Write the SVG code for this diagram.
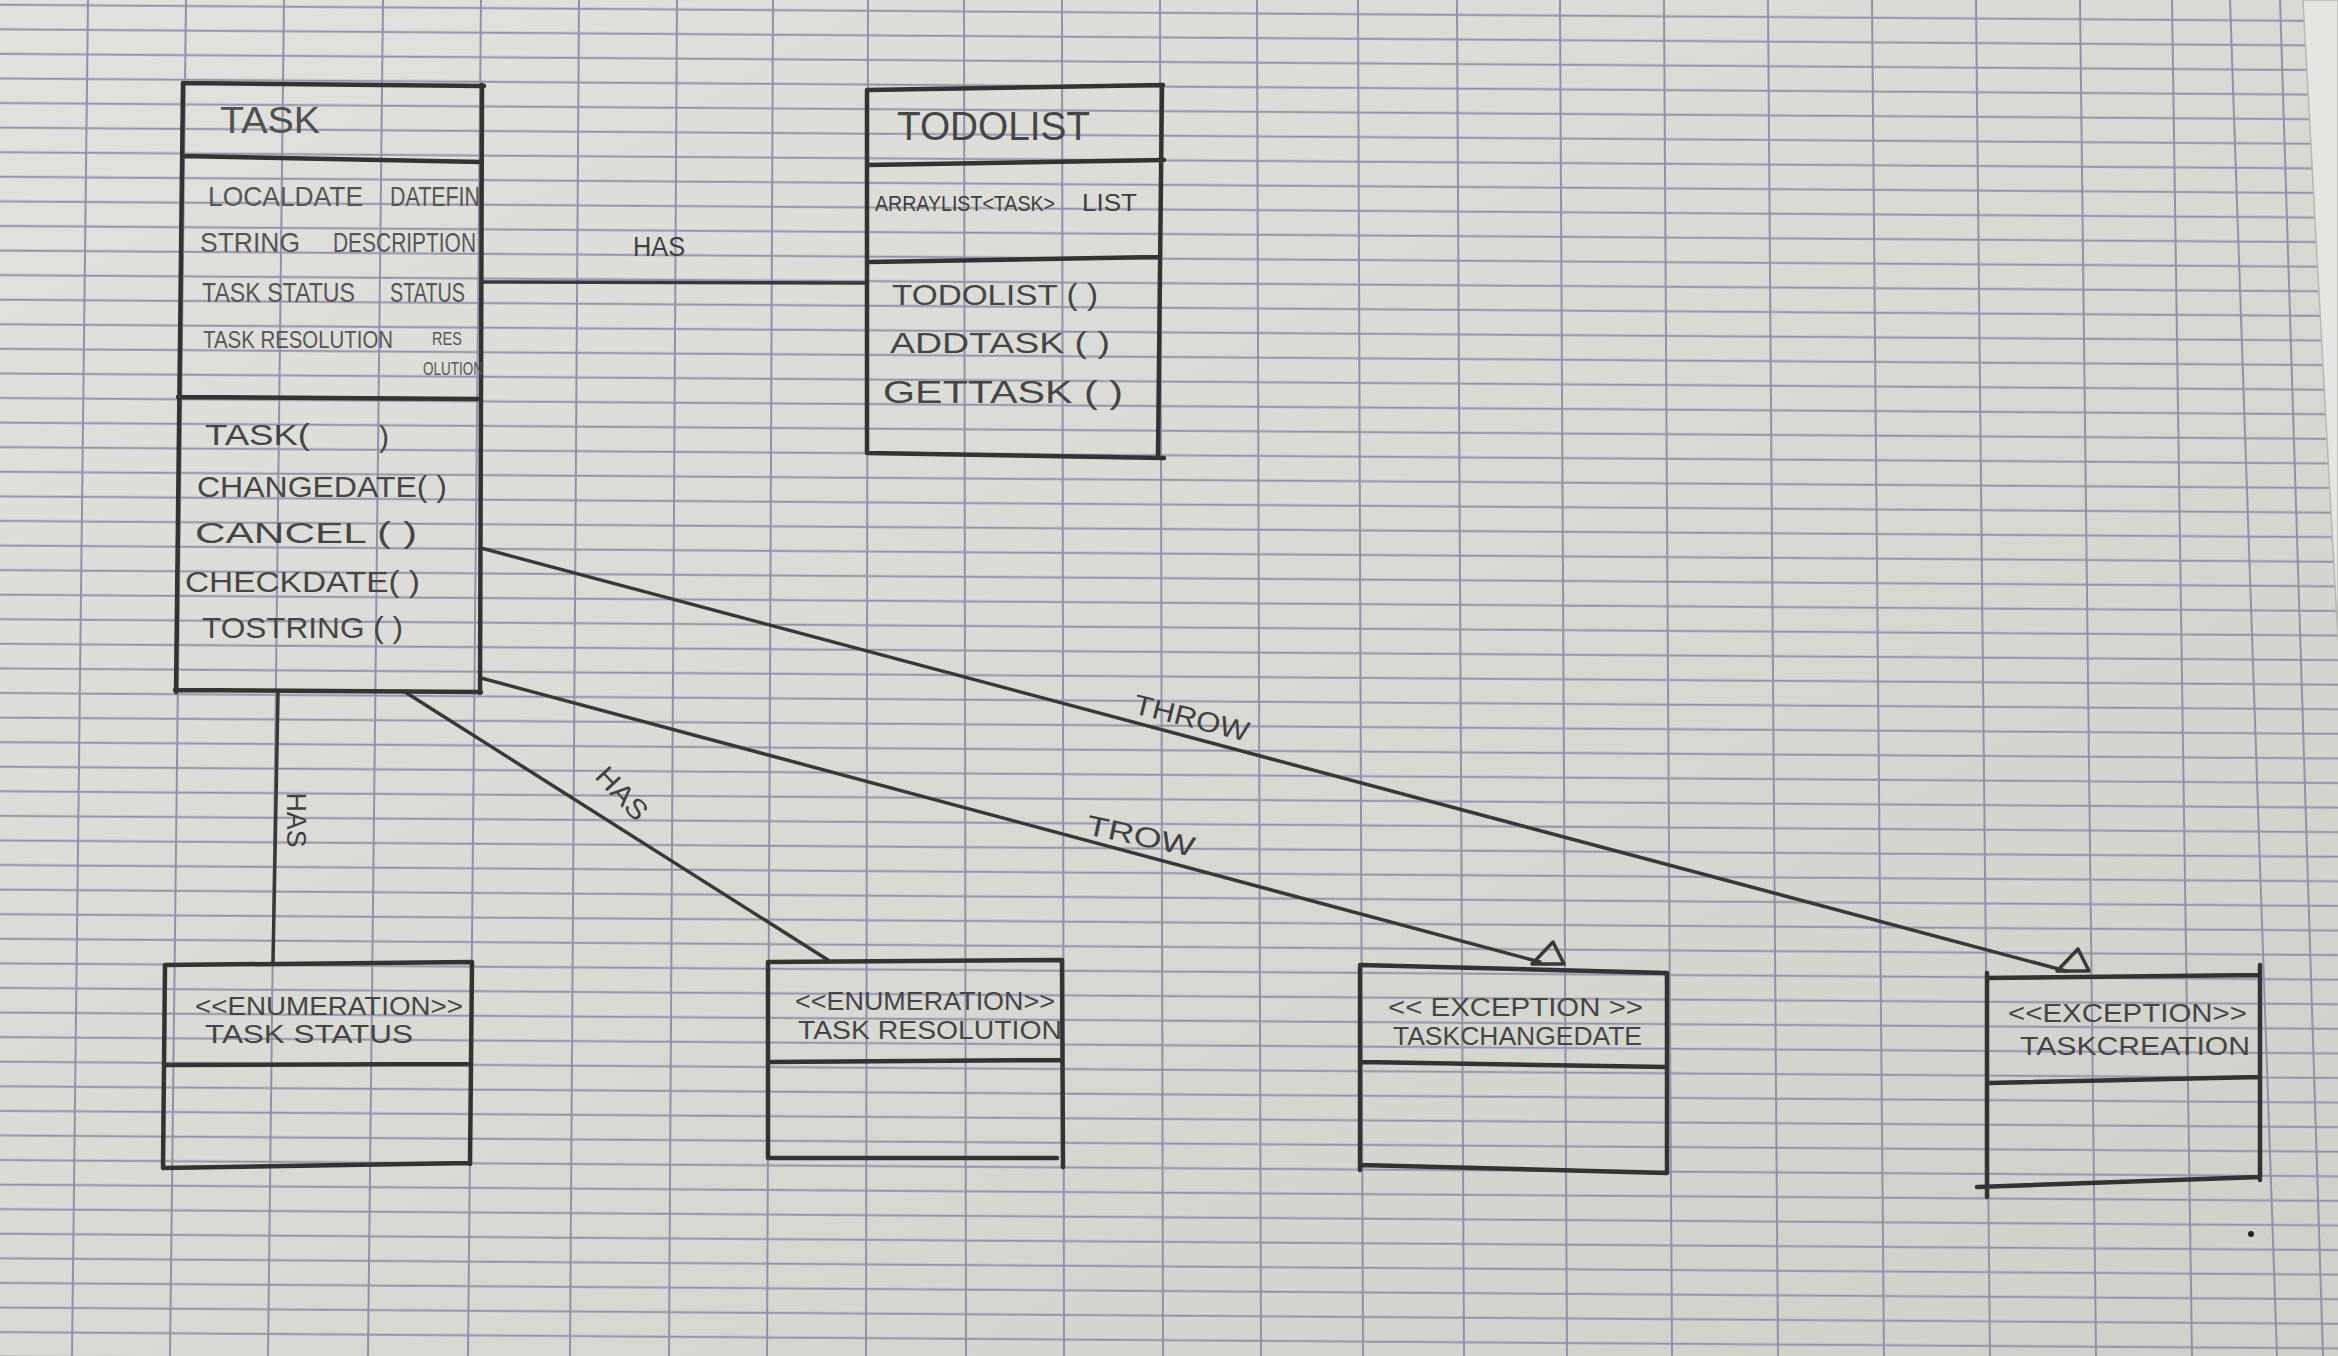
<svg xmlns="http://www.w3.org/2000/svg" width="2338" height="1356" viewBox="0 0 2338 1356">
  <defs>
    <linearGradient id="paper" x1="0" y1="0" x2="1" y2="1">
      <stop offset="0" stop-color="#e1e1dd"/>
      <stop offset="0.55" stop-color="#d9d9d4"/>
      <stop offset="1" stop-color="#d0d0ca"/>
    </linearGradient>
    <!-- ruled horizontal lines of the notebook page, slightly tilted -->
    <pattern id="rule" patternUnits="userSpaceOnUse" width="2600" height="24.58" patternTransform="rotate(0.4)">
      <line x1="0" y1="4.6" x2="2600" y2="4.6" stroke="#968fac" stroke-width="2"/>
    </pattern>
    <!-- hollow triangle head (apex at origin) -->
    <path id="tri" d="M0,0 L-21,22 L11,22 Z"/>
    <style>
      .vgrid line{stroke:#968fac;stroke-width:2}
      .box{fill:none;stroke:#333;stroke-width:4.5;stroke-linecap:round;stroke-linejoin:round}
      .wire{fill:none;stroke:#383838;stroke-width:3.5;stroke-linecap:round}
      .head{fill:none;stroke:#383838;stroke-width:3.5;stroke-linejoin:round}
      text{font-family:"Liberation Sans Narrow","Liberation Sans",Arial,sans-serif;fill:#454545}
      .ttl{font-size:36px;fill:#505050}
      .big{font-size:40px}
      .att{font-size:28px;fill:#555}
      .meth{font-size:30px}
      .ster{font-size:25px}
      .lbl{font-size:28px;fill:#404040}
    </style>
  </defs>

  <!-- paper -->
  <rect x="0" y="0" width="2338" height="1356" fill="url(#paper)"/>
  <rect x="0" y="0" width="2338" height="1356" fill="url(#rule)"/>
  <g class="vgrid">
    <line x1="88" y1="0" x2="72" y2="1356"/>
    <line x1="186" y1="0" x2="170" y2="1356"/>
    <line x1="284" y1="0" x2="268" y2="1356"/>
    <line x1="383" y1="0" x2="368" y2="1356"/>
    <line x1="481" y1="0" x2="468" y2="1356"/>
    <line x1="579" y1="0" x2="570" y2="1356"/>
    <line x1="677" y1="0" x2="669" y2="1356"/>
    <line x1="773" y1="0" x2="767" y2="1356"/>
    <line x1="868" y1="0" x2="866" y2="1356"/>
    <line x1="964" y1="0" x2="966" y2="1356"/>
    <line x1="1062" y1="0" x2="1064" y2="1356"/>
    <line x1="1160" y1="0" x2="1163" y2="1356"/>
    <line x1="1257" y1="0" x2="1261" y2="1356"/>
    <line x1="1358" y1="0" x2="1363" y2="1356"/>
    <line x1="1457" y1="0" x2="1464" y2="1356"/>
    <line x1="1560" y1="0" x2="1567" y2="1356"/>
    <line x1="1664" y1="0" x2="1672" y2="1356"/>
    <line x1="1768" y1="0" x2="1778" y2="1356"/>
    <line x1="1872" y1="0" x2="1884" y2="1356"/>
    <line x1="1976" y1="0" x2="1990" y2="1356"/>
    <line x1="2080" y1="0" x2="2096" y2="1356"/>
    <line x1="2172" y1="0" x2="2192" y2="1356"/>
    <line x1="2230" y1="0" x2="2277" y2="1356"/>
    <line x1="2280" y1="0" x2="2323" y2="1356"/>
  </g>
  <!-- edge of the next sheet, top right -->
  <polygon points="2303,0 2338,0 2338,640" fill="#e5e5e2" stroke="#b8b8b4" stroke-width="1.5"/>
  <circle cx="2251" cy="1234" r="3" fill="#222"/>

  <!-- connectors -->
  <g id="connectors">
    <line class="wire" x1="482" y1="282" x2="866" y2="283"/>
    <text class="lbl" x="633" y="256" textLength="52" lengthAdjust="spacingAndGlyphs">HAS</text>

    <line class="wire" x1="278" y1="693" x2="273" y2="963"/>
    <text class="lbl" transform="translate(287,820) rotate(90)" x="0" y="0" text-anchor="middle" textLength="55" lengthAdjust="spacingAndGlyphs">HAS</text>

    <line class="wire" x1="405" y1="692" x2="828" y2="960"/>
    <text class="lbl" transform="translate(615,800) rotate(47)" x="0" y="0" text-anchor="middle" textLength="62" lengthAdjust="spacingAndGlyphs">HAS</text>

    <line class="wire" x1="481" y1="678" x2="1540" y2="962"/>
    <use href="#tri" class="head" x="1553" y="942"/>
    <text class="lbl" transform="translate(1085,834) rotate(12)" x="0" y="0" textLength="110" lengthAdjust="spacingAndGlyphs">TROW</text>

    <line class="wire" x1="481" y1="548" x2="2066" y2="971"/>
    <use href="#tri" class="head" x="2078" y="949"/>
    <text class="lbl" transform="translate(1132,713) rotate(14)" x="0" y="0" textLength="118" lengthAdjust="spacingAndGlyphs">THROW</text>
  </g>

  <!-- class Task -->
  <g id="task">
    <path class="box" d="M183,83 L484,86 M482,85 L480,693 M481,692 L175,690 M176,692 L183,83 M183,156 L482,162 M178,397 L480,399"/>
    <text class="ttl" x="220" y="133" textLength="100" lengthAdjust="spacingAndGlyphs">TASK</text>
    <text class="att" x="208" y="206" textLength="155" lengthAdjust="spacingAndGlyphs">LOCALDATE</text>
    <text class="att" x="390" y="206" textLength="90" lengthAdjust="spacingAndGlyphs">DATEFIN</text>
    <text class="att" x="200" y="252" textLength="100" lengthAdjust="spacingAndGlyphs">STRING</text>
    <text class="att" x="333" y="252" textLength="143" lengthAdjust="spacingAndGlyphs">DESCRIPTION</text>
    <text class="att" x="202" y="302" textLength="153" lengthAdjust="spacingAndGlyphs">TASK STATUS</text>
    <text class="att" x="390" y="302" textLength="75" lengthAdjust="spacingAndGlyphs">STATUS</text>
    <text class="att" x="203" y="348" textLength="190" lengthAdjust="spacingAndGlyphs" style="font-size:24px">TASK RESOLUTION</text>
    <text class="att" x="432" y="345" textLength="30" lengthAdjust="spacingAndGlyphs" style="font-size:19px">RES</text>
    <text class="att" x="423" y="375" textLength="60" lengthAdjust="spacingAndGlyphs" style="font-size:19px">OLUTION</text>
    <text class="meth" x="205" y="445" textLength="105" lengthAdjust="spacingAndGlyphs">TASK(</text>
    <text class="meth" x="379" y="447">)</text>
    <text class="meth" x="197" y="497" textLength="250" lengthAdjust="spacingAndGlyphs">CHANGEDATE( )</text>
    <text class="meth" x="195" y="543" textLength="222" lengthAdjust="spacingAndGlyphs">CANCEL (  )</text>
    <text class="meth" x="185" y="592" textLength="235" lengthAdjust="spacingAndGlyphs">CHECKDATE( )</text>
    <text class="meth" x="202" y="638" textLength="201" lengthAdjust="spacingAndGlyphs">TOSTRING ( )</text>
  </g>

  <!-- class TodoList -->
  <g id="todolist">
    <path class="box" d="M867,90 L1163,85 M1162,85 L1158,456 M1164,458 L867,453 M867,453 L867,90 M867,165 L1164,160 M869,262 L1158,257"/>
    <text class="big" x="897" y="140" textLength="193" lengthAdjust="spacingAndGlyphs">TODOLIST</text>
    <text class="att" x="875" y="211" textLength="180" lengthAdjust="spacingAndGlyphs" style="font-size:22px;fill:#3e3e3e">ARRAYLIST&lt;TASK&gt;</text>
    <text class="att" x="1082" y="211" textLength="55" lengthAdjust="spacingAndGlyphs" style="font-size:24px;fill:#3e3e3e">LIST</text>
    <text class="meth" x="892" y="305" textLength="206" lengthAdjust="spacingAndGlyphs">TODOLIST ( )</text>
    <text class="meth" x="890" y="353" textLength="220" lengthAdjust="spacingAndGlyphs">ADDTASK ( )</text>
    <text class="meth" x="883" y="403" textLength="240" lengthAdjust="spacingAndGlyphs" style="font-size:32px">GETTASK ( )</text>
  </g>

  <!-- enumeration TaskStatus -->
  <g id="task-status">
    <path class="box" d="M165,965 L472,962 M472,962 L470,1164 M470,1163 L163,1168 M163,1168 L165,965 M166,1065 L470,1064"/>
    <text class="ster" x="195" y="1015" textLength="268" lengthAdjust="spacingAndGlyphs">&lt;&lt;ENUMERATION&gt;&gt;</text>
    <text class="ster" x="205" y="1043" textLength="208" lengthAdjust="spacingAndGlyphs">TASK STATUS</text>
  </g>

  <!-- enumeration TaskResolution -->
  <g id="task-resolution">
    <path class="box" d="M768,962 L1062,960 M1062,960 L1063,1167 M1057,1158 L768,1158 M768,1158 L768,962 M769,1062 L1062,1060"/>
    <text class="ster" x="795" y="1010" textLength="260" lengthAdjust="spacingAndGlyphs">&lt;&lt;ENUMERATION&gt;&gt;</text>
    <text class="ster" x="798" y="1039" textLength="264" lengthAdjust="spacingAndGlyphs">TASK RESOLUTION</text>
  </g>

  <!-- exception TaskChangeDate -->
  <g id="task-change-date">
    <path class="box" d="M1360,965 L1667,973 M1667,973 L1667,1173 M1667,1173 L1360,1165 M1360,1170 L1360,967 M1362,1062 L1667,1067"/>
    <text class="ster" x="1388" y="1016" textLength="255" lengthAdjust="spacingAndGlyphs">&lt;&lt; EXCEPTION &gt;&gt;</text>
    <text class="ster" x="1393" y="1045" textLength="249" lengthAdjust="spacingAndGlyphs">TASKCHANGEDATE</text>
  </g>

  <!-- exception TaskCreation -->
  <g id="task-creation">
    <path class="box" d="M1987,978 L2260,975 M2260,965 L2260,1180 M2260,1177 L1977,1187 M1987,1197 L1987,973 M1988,1083 L2260,1077"/>
    <text class="ster" x="2008" y="1022" textLength="239" lengthAdjust="spacingAndGlyphs">&lt;&lt;EXCEPTION&gt;&gt;</text>
    <text class="ster" x="2020" y="1055" textLength="230" lengthAdjust="spacingAndGlyphs">TASKCREATION</text>
  </g>
</svg>
